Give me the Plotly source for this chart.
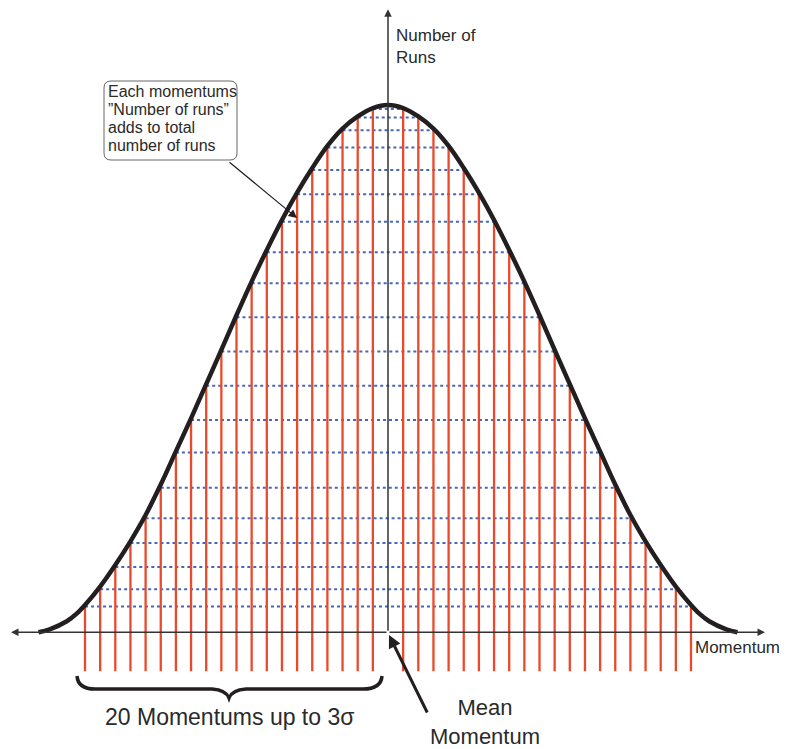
import plotly.graph_objects as go

# ---- data (momentum in units of sigma, runs scaled so the peak = 100) ----
# the 20 momentum stems on each side of the mean
momentum = [0.15, 0.30, 0.45, 0.60, 0.75, 0.90, 1.05, 1.20, 1.35, 1.50,
            1.65, 1.80, 1.95, 2.10, 2.25, 2.40, 2.55, 2.70, 2.85, 3.00]
runs = [99.5, 97.9, 95.5, 92.2, 87.9, 83.3, 78.1, 72.3, 66.4, 59.9,
        53.4, 46.9, 40.4, 34.2, 27.5, 21.7, 17.0, 12.4, 8.2, 4.9]

# the drawn bell curve (right half; mirrored for the left half)
curve_momentum = [0.0, 0.15, 0.30, 0.45, 0.60, 0.75, 0.90, 1.05, 1.20, 1.35, 1.50,
                  1.65, 1.80, 1.95, 2.10, 2.25, 2.40, 2.55, 2.70, 2.85, 3.00,
                  3.08, 3.18, 3.35, 3.46]
curve_runs = [100.3, 99.7, 98.1, 95.8, 92.5, 88.3, 83.6, 78.4, 72.7, 66.7, 60.3,
              53.7, 47.2, 40.7, 34.4, 28.1, 22.3, 17.3, 12.8, 8.7, 5.2,
              3.6, 2.1, 0.57, 0.0]

# page body has an 8px margin, so the figure is made smaller and offset
OFF = 8
W, H = 787 - OFF, 749 - OFF
STEM_BOTTOM = -7.4
X_RANGE = [-3.7624, 3.9505]
Y_RANGE = [-22.19, 118.73]

RED = "#EA4A2B"
BLUE = "#4469B9"
INK = "#231F20"
TXT = "#2a2a2a"


def px(x):
    return (x - OFF) / W


def py(y):
    return 1 - (y - OFF) / H


fig = go.Figure()

# dotted horizontal lines joining symmetric momentum pairs
dx, dy = [], []
for m, r in zip(momentum, runs):
    dx += [-m, m, None]
    dy += [r, r, None]
fig.add_trace(go.Scatter(x=dx, y=dy, mode="lines",
                         line=dict(color=BLUE, width=2, dash="dot"),
                         hoverinfo="skip"))

# red vertical stems
sx, sy = [], []
for m, r in zip(momentum, runs):
    for s in (-m, m):
        sx += [s, s, None]
        sy += [STEM_BOTTOM, r, None]
fig.add_trace(go.Scatter(x=sx, y=sy, mode="lines",
                         line=dict(color=RED, width=2.3),
                         hoverinfo="skip"))

# bell curve
cx = [-m for m in reversed(curve_momentum[1:])] + curve_momentum
cy = list(reversed(curve_runs[1:])) + curve_runs
fig.add_trace(go.Scatter(x=cx, y=cy, mode="lines",
                         line=dict(color=INK, width=4.5, shape="spline", smoothing=1.0),
                         hoverinfo="skip"))

annotations = []

# axes with arrowheads
AX_END = 3.733
annotations += [
    dict(x=AX_END, y=0, ax=0, ay=0, xref="x", yref="y", axref="x", ayref="y",
         text="", showarrow=True, arrowhead=2, arrowsize=1.0, arrowwidth=1.5,
         arrowcolor="#333", standoff=0, startstandoff=0),
    dict(x=-AX_END, y=0, ax=0, ay=0, xref="x", yref="y", axref="x", ayref="y",
         text="", showarrow=True, arrowhead=2, arrowsize=1.0, arrowwidth=1.5,
         arrowcolor="#333", standoff=0, startstandoff=0),
    dict(x=0, y=118.5, ax=0, ay=0, xref="x", yref="y", axref="x", ayref="y",
         text="", showarrow=True, arrowhead=2, arrowsize=1.0, arrowwidth=1.5,
         arrowcolor="#333", standoff=0, startstandoff=0),
]

# axis labels
annotations += [
    dict(x=px(394), y=py(24), xref="paper", yref="paper", xanchor="left", yanchor="top",
         text="Number of<br>Runs", showarrow=False, align="left",
         font=dict(family="Liberation Sans, Arial", size=17, color=TXT)),
    dict(x=px(693), y=py(647), xref="paper", yref="paper", xanchor="left", yanchor="middle",
         text="Momentum", showarrow=False, align="left",
         font=dict(family="Liberation Sans, Arial", size=17, color=TXT)),
    dict(x=px(485), y=py(722), xref="paper", yref="paper", xanchor="center", yanchor="middle",
         text="Mean<br>Momentum", showarrow=False, align="center",
         font=dict(family="Liberation Sans, Arial", size=22, color=TXT)),
    dict(x=px(229), y=py(717), xref="paper", yref="paper", xanchor="center", yanchor="middle",
         text="20 Momentums up to 3σ", showarrow=False,
         font=dict(family="Liberation Sans, Arial", size=23, color=TXT)),
]


def arrow(tip, tail, width, size, color):
    return dict(x=px(tip[0]), y=py(tip[1]), ax=tail[0] - tip[0], ay=tail[1] - tip[1],
                xref="paper", yref="paper", axref="pixel", ayref="pixel",
                text="", showarrow=True, arrowhead=2, arrowsize=size,
                arrowwidth=width, arrowcolor=color, standoff=0)


# mean momentum arrow
annotations.append(arrow((389, 635), (428, 714), 3, 0.85, INK))
# callout arrow
annotations.append(arrow((297, 218), (228, 161), 1.2, 1.4, INK))

# callout text lines
callout_lines = ["Each momentums", "”Number of runs”", "adds to total", "number of runs"]
for i, t in enumerate(callout_lines):
    annotations.append(dict(x=px(106), y=py(92 + i * 17.8), xref="paper", yref="paper",
                            xanchor="left", yanchor="middle", text=t, showarrow=False,
                            font=dict(family="Liberation Sans, Arial", size=16, color=TXT)))

shapes = []
# rounded callout box
x0, y0, x1, y1, r = 104, 81, 237, 160, 7
box = (f"M {px(x0 + r)},{py(y0)} L {px(x1 - r)},{py(y0)} "
       f"Q {px(x1)},{py(y0)} {px(x1)},{py(y0 + r)} "
       f"L {px(x1)},{py(y1 - r)} Q {px(x1)},{py(y1)} {px(x1 - r)},{py(y1)} "
       f"L {px(x0 + r)},{py(y1)} Q {px(x0)},{py(y1)} {px(x0)},{py(y1 - r)} "
       f"L {px(x0)},{py(y0 + r)} Q {px(x0)},{py(y0)} {px(x0 + r)},{py(y0)} Z")
shapes.append(dict(type="path", path=box, xref="paper", yref="paper",
                   line=dict(color="#666", width=1), fillcolor="white", layer="below"))

# curly brace
pts = [(77, 676), (78, 689), (95, 689), (212, 689), (226, 690), (229, 698),
       (232, 690), (246, 689), (363, 689), (381, 689), (382, 676)]
P = [(px(a), py(b)) for a, b in pts]
brace = (f"M {P[0][0]},{P[0][1]} Q {P[1][0]},{P[1][1]} {P[2][0]},{P[2][1]} "
         f"L {P[3][0]},{P[3][1]} Q {P[4][0]},{P[4][1]} {P[5][0]},{P[5][1]} "
         f"Q {P[6][0]},{P[6][1]} {P[7][0]},{P[7][1]} "
         f"L {P[8][0]},{P[8][1]} Q {P[9][0]},{P[9][1]} {P[10][0]},{P[10][1]}")
shapes.append(dict(type="path", path=brace, xref="paper", yref="paper",
                   line=dict(color=INK, width=3.5)))

fig.update_layout(
    width=W, height=H,
    margin=dict(l=0, r=0, t=0, b=0),
    paper_bgcolor="white", plot_bgcolor="white",
    showlegend=False,
    xaxis=dict(range=X_RANGE, visible=False, fixedrange=True),
    yaxis=dict(range=Y_RANGE, visible=False, fixedrange=True),
    annotations=annotations,
    shapes=shapes,
)

fig.write_html("out.html")
